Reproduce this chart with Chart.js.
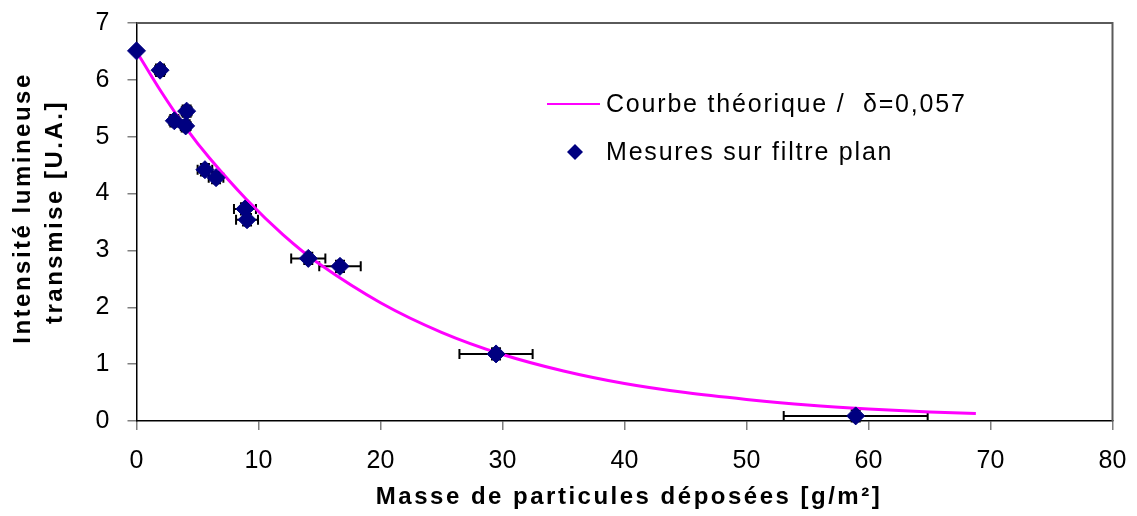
<!DOCTYPE html>
<html lang="fr">
<head>
<meta charset="UTF-8">
<title>Intensité lumineuse transmise</title>
<style>
  body { margin: 0; background: white; }
  #wrap { width: 1137px; height: 516px; }
</style>
</head>
<body>
<div id="wrap"><canvas id="chart" width="1137" height="516"></canvas></div>

<script src="https://cdn.jsdelivr.net/npm/chart.js"></script>
<script>
// Mesures sur filtre plan : masse déposée (g/m²), intensité transmise (U.A.)
const masse      = [0, 1.93, 3.10, 4.11, 4.03, 5.61, 6.52, 8.89, 9.06, 14.08, 16.68, 29.47, 58.95];
const intensite  = [6.51, 6.17, 5.28, 5.45, 5.19, 4.42, 4.28, 3.73, 3.54, 2.86, 2.72, 1.18, 0.09];
const erreurMasse     = [0, 0.4, 0.4, 0.4, 0.4, 0.6, 0.6, 0.9, 0.9, 1.4, 1.7, 3.0, 5.9];
const erreurIntensite = [0.05, 0.1, 0.1, 0.1, 0.1, 0.1, 0.1, 0.1, 0.1, 0.1, 0.1, 0.1, 0.1];

// Courbe théorique (delta = 0,057)
const courbeX = [0, 2, 4, 6, 9, 12, 15, 20, 25, 30, 35, 40, 45, 50, 55, 60, 65, 68.8];
const courbeY = [6.5, 5.80, 5.17, 4.62, 3.90, 3.28, 2.76, 2.08, 1.56, 1.17, 0.88, 0.66, 0.50, 0.38, 0.28, 0.21, 0.16, 0.13];

const xTicks = [0, 10, 20, 30, 40, 50, 60, 70, 80];
const yTicks = [0, 1, 2, 3, 4, 5, 6, 7];

const labelCourbe = 'Courbe théorique /  δ=0,057';
const labelMesures = 'Mesures sur filtre plan';
const titreX = 'Masse de particules déposées [g/m²]';
const titreY = ['Intensité lumineuse', 'transmise [U.A.]'];

const FONT = '"Liberation Sans", Arial, sans-serif';

// barres d'erreur horizontales et verticales
const errorBars = {
  id: 'errorBars',
  beforeDatasetsDraw(chart) {
    const ctx = chart.ctx, xs = chart.scales.x, ys = chart.scales.y;
    ctx.save();
    ctx.strokeStyle = '#000';
    ctx.lineWidth = 2;
    masse.forEach((m, i) => {
      const px = xs.getPixelForValue(m), py = ys.getPixelForValue(intensite[i]);
      const cap = 5;
      ctx.beginPath();
      if (erreurMasse[i] > 0) {
        const x1 = xs.getPixelForValue(m - erreurMasse[i]);
        const x2 = xs.getPixelForValue(m + erreurMasse[i]);
        ctx.moveTo(x1, py); ctx.lineTo(x2, py);
        ctx.moveTo(x1, py - cap); ctx.lineTo(x1, py + cap);
        ctx.moveTo(x2, py - cap); ctx.lineTo(x2, py + cap);
      }
      const y1 = ys.getPixelForValue(intensite[i] + erreurIntensite[i]);
      const y2 = ys.getPixelForValue(intensite[i] - erreurIntensite[i]);
      ctx.moveTo(px, y1); ctx.lineTo(px, y2);
      ctx.moveTo(px - cap, y1); ctx.lineTo(px + cap, y1);
      ctx.moveTo(px - cap, y2); ctx.lineTo(px + cap, y2);
      ctx.stroke();
    });
    ctx.restore();
  }
};

// cadre, légende et titres des axes
const decor = {
  id: 'decor',
  beforeDatasetsDraw(chart) {
    const ctx = chart.ctx, a = chart.chartArea;
    ctx.save();
    // cadre gris haut / droite
    ctx.strokeStyle = '#5a5a5a';
    ctx.lineWidth = 2;
    ctx.beginPath();
    ctx.moveTo(a.left, a.top); ctx.lineTo(a.right, a.top); ctx.lineTo(a.right, a.bottom);
    ctx.stroke();
    ctx.restore();
  },
  afterDraw(chart) {
    const ctx = chart.ctx;
    const ds = chart.data.datasets;
    ctx.save();
    // légende
    ctx.fillStyle = '#000';
    ctx.font = '25px ' + FONT;
    ctx.letterSpacing = '1.8px';
    ctx.textBaseline = 'middle';
    ctx.strokeStyle = ds[0].borderColor;
    ctx.lineWidth = 2;
    ctx.beginPath(); ctx.moveTo(547, 104); ctx.lineTo(600, 104); ctx.stroke();
    ctx.fillText(ds[0].label, 606, 105);
    ctx.fillStyle = ds[1].backgroundColor;
    ctx.beginPath();
    ctx.moveTo(575, 144); ctx.lineTo(583, 152); ctx.lineTo(575, 160); ctx.lineTo(567, 152);
    ctx.closePath(); ctx.fill();
    ctx.fillStyle = '#000';
    ctx.fillText(ds[1].label, 606, 153);

    // titres des axes
    ctx.font = 'bold 24px ' + FONT;
    ctx.letterSpacing = '2.5px';
    ctx.textAlign = 'center';
    ctx.fillText(titreX, 629, 497);
    ctx.rotate(-Math.PI / 2);
    ctx.fillText(titreY[0], -208, 23);
    ctx.fillText(titreY[1], -212, 55);
    ctx.restore();
  }
};

const ctx = document.getElementById('chart').getContext('2d');
const chart = new Chart(ctx, {
  type: 'scatter',
  data: {
    datasets: [
      {
        type: 'line',
        label: labelCourbe,
        data: courbeX.map((x, i) => ({ x: x, y: courbeY[i] })),
        borderColor: '#ff00ff',
        backgroundColor: '#ff00ff',
        borderWidth: 3,
        pointRadius: 0,
        tension: 0.3,
        fill: false,
        clip: false,
        order: 2
      },
      {
        label: labelMesures,
        data: masse.map((x, i) => ({ x: x, y: intensite[i] })),
        backgroundColor: '#000080',
        borderColor: '#000080',
        pointStyle: 'rectRot',
        pointRadius: 9,
        pointHoverRadius: 9,
        clip: false,
        order: 1
      }
    ]
  },
  options: {
    responsive: false,
    animation: false,
    layout: { padding: { top: 23, right: 24.5, left: 0, bottom: 0 } },
    plugins: {
      legend: { display: false },
      tooltip: { enabled: false }
    },
    scales: {
      x: {
        type: 'linear',
        min: 0,
        max: 80,
        afterBuildTicks: s => { s.ticks = xTicks.map(v => ({ value: v })); },
        afterFit: s => { s.height = 95; s.paddingLeft = 0; s.paddingRight = 0; },
        ticks: { color: '#000', font: { family: FONT, size: 25 }, padding: 16, maxRotation: 0 },
        grid: { drawOnChartArea: false, color: '#7f7f7f', lineWidth: 1.5, tickLength: 9 },
        border: { color: '#000', width: 1.5 }
      },
      y: {
        min: 0,
        max: 7,
        afterBuildTicks: s => { s.ticks = yTicks.map(v => ({ value: v })); },
        afterFit: s => { s.width = 136.5; s.paddingTop = 0; s.paddingBottom = 0; },
        ticks: { color: '#000', font: { family: FONT, size: 25 }, padding: 18 },
        grid: { drawOnChartArea: false, color: '#7f7f7f', lineWidth: 1.5, tickLength: 9 },
        border: { color: '#000', width: 1.5 }
      }
    }
  },
  plugins: [errorBars, decor]
});
</script>
</body>
</html>
